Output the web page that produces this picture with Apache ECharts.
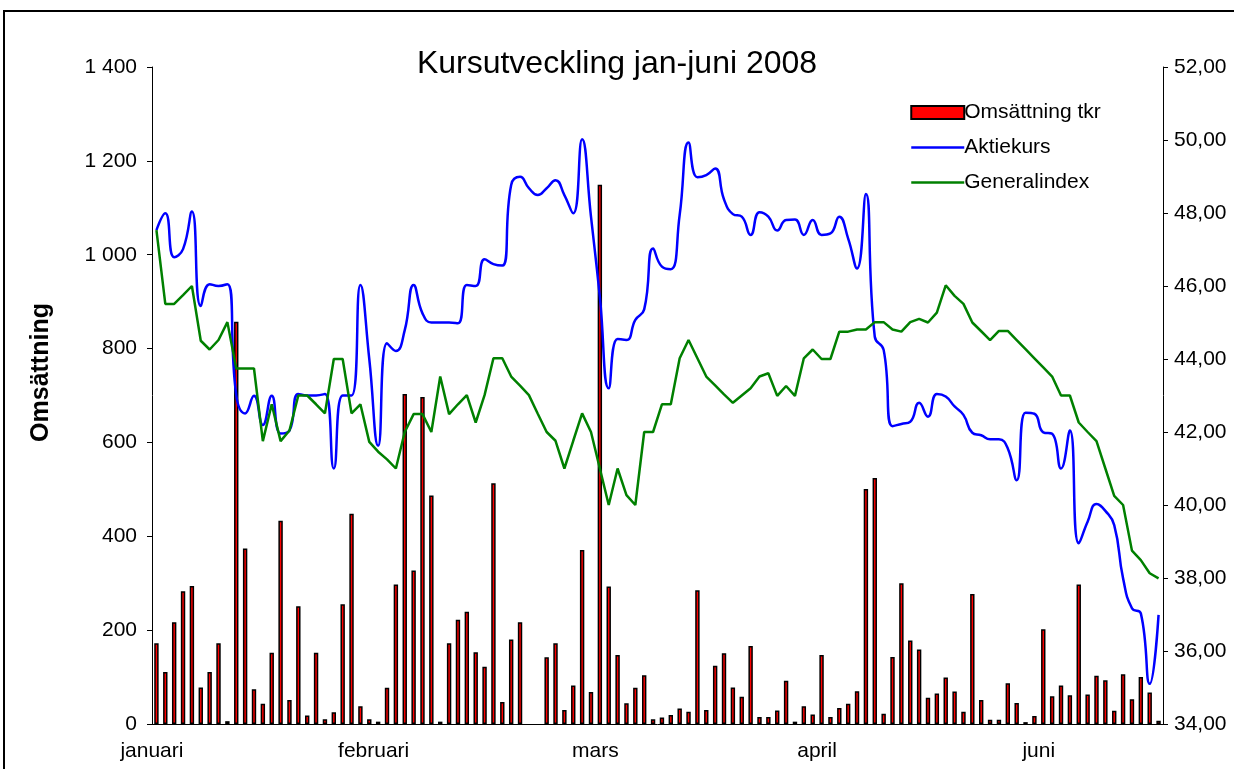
<!DOCTYPE html>
<html lang="sv">
<head>
<meta charset="UTF-8">
<title>Kursutveckling jan-juni 2008</title>
<script src="https://cdn.jsdelivr.net/npm/echarts@6/dist/echarts.min.js"></script>
<style>
    html, body { margin: 0; padding: 0; background: #fff; }
    #frame { position: absolute; left: 3px; top: 10px; width: 1300px; height: 800px; border: 2px solid #000; box-sizing: border-box; }
    #chart { position: absolute; left: 0; top: 0; width: 1234px; height: 769px; }
</style>
</head>
<body>
<div id="frame"></div>
<div id="chart"></div>
<script>
    // handelsdagar jan-juni 2008, en kategori per dag
    let monthLabels = ['januari', 'februari', 'mars', 'april', 'juni'];
    let monthStart = [0, 25, 50, 75, 100];

    // Omsättning tkr (vänster axel)
    let omsattning = [
        172, 111, 217, 283, 294, 78, 111, 172, 6, 857,
        374, 74, 43, 152, 433, 51, 251, 18, 152, 10,
        25, 255, 448, 38, 10, 5, 77, 297, 703, 327,
        697, 487, 5, 172, 222, 239, 153, 122, 513, 47,
        180, 217, null, null, 142, 172, 30, 82, 371, 68,
        1149, 293, 147, 44, 77, 104, 10, 14, 19, 33,
        26, 285, 30, 124, 151, 78, 58, 166, 15, 15,
        29, 92, 5, 38, 20, 147, 15, 34, 43, 70,
        501, 524, 22, 143, 300, 178, 159, 56, 65, 99,
        69, 26, 277, 51, 9, 9, 87, 45, 4, 17,
        202, 59, 82, 61, 297, 63, 103, 93, 28, 106,
        53, 100, 67, 7
    ];

    // Aktiekurs (höger axel)
    let aktiekurs = [
        47.53, 47.99, 46.79, 47.01, 48.04, 45.45, 46.05, 46.00, 46.05, 43.01,
        42.51, 42.99, 42.19, 42.99, 41.96, 42.04, 43.04, 43.00, 43.00, 43.04,
        41.00, 43.00, 43.00, 46.03, 44.00, 41.62, 44.43, 44.22, 44.79, 46.03,
        45.25, 45.00, 45.00, 45.00, 44.98, 46.03, 46.00, 46.73, 46.60, 46.56,
        48.77, 48.99, 48.68, 48.49, 48.68, 48.90, 48.49, 47.99, 50.02, 47.90,
        45.70, 43.20, 44.55, 44.52, 45.07, 45.36, 47.03, 46.53, 46.46, 47.95,
        49.93, 48.98, 49.04, 49.22, 48.37, 47.97, 47.90, 47.40, 48.02, 47.90,
        47.52, 47.81, 47.82, 47.40, 47.81, 47.40, 47.44, 47.90, 47.30, 46.48,
        48.52, 44.61, 44.25, 42.16, 42.22, 42.28, 42.80, 42.42, 43.04, 42.97,
        42.70, 42.47, 41.98, 41.91, 41.80, 41.80, 41.55, 40.68, 42.53, 42.50,
        41.99, 41.95, 41.00, 42.04, 38.95, 39.54, 40.03, 39.84, 39.45, 37.99,
        37.17, 37.03, 35.10, 36.99
    ];

    // Generalindex (höger axel)
    let generalindex = [
        47.53, 45.51, 45.51, 45.75, 46.00, 44.50, 44.26, 44.52, 45.01, 43.74,
        43.74, 43.74, 41.75, 42.76, 41.75, 42.04, 43.00, 43.00, 42.76, 42.51,
        44.00, 44.00, 42.51, 42.76, 41.73, 41.46, 41.25, 41.00, 42.00, 42.49,
        42.49, 42.00, 43.52, 42.49, 42.76, 43.01, 42.26, 43.01, 44.02, 44.02,
        43.52, 43.27, 43.01, 42.50, 42.00, 41.76, 41.00, 41.76, 42.51, 42.00,
        41.00, 40.00, 41.00, 40.27, 40.00, 42.00, 42.00, 42.76, 42.76, 44.02,
        44.52, 44.02, 43.52, 43.28, 43.03, 42.80, 43.00, 43.20, 43.52, 43.61,
        42.99, 43.26, 42.99, 44.02, 44.26, 44.00, 44.00, 44.75, 44.75, 44.81,
        44.81, 45.01, 45.01, 44.81, 44.75, 45.01, 45.10, 45.00, 45.27, 46.02,
        45.73, 45.51, 45.00, 44.76, 44.52, 44.77, 44.77, 44.52, 44.27, 44.02,
        43.77, 43.52, 43.00, 43.00, 42.26, 42.00, 41.75, 41.00, 40.25, 40.00,
        38.75, 38.49, 38.13, 37.99
    ];

    let categories = omsattning.map(function (v, i) {
        let k = monthStart.indexOf(i);
        return k >= 0 ? monthLabels[k] : '';
    });

    let font = '"Liberation Sans", Arial, sans-serif';

    let chart = echarts.init(document.getElementById('chart'));
    chart.setOption({
        animation: false,
        textStyle: { fontFamily: font, color: '#000' },
        title: {
            text: 'Kursutveckling jan-juni 2008',
            left: 'center',
            top: 43,
            textStyle: { fontFamily: font, fontSize: 32, fontWeight: 'normal', color: '#000' }
        },
        legend: {
            orient: 'vertical',
            left: 905,
            top: 97,
            itemWidth: 53,
            itemHeight: 13,
            itemGap: 14,
            textStyle: { fontFamily: font, fontSize: 21, color: '#000', padding: [0, 0, 0, -5] },
            data: [
                { name: 'Omsättning tkr', icon: 'rect', itemStyle: { borderWidth: 2 } },
                { name: 'Aktiekurs', itemStyle: { opacity: 0 }, lineStyle: { width: 2.5 } },
                { name: 'Generalindex', itemStyle: { opacity: 0 }, lineStyle: { width: 2.5 } }
            ]
        },
        grid: { left: 152, right: 71, top: 67, bottom: 45 },
        xAxis: {
            type: 'category',
            data: categories,
            boundaryGap: true,
            axisLine: { lineStyle: { color: '#000', width: 1 } },
            axisTick: { interval: 0, length: 5, lineStyle: { color: '#000' } },
            axisLabel: {
                interval: 0,
                margin: 17,
                fontSize: 21,
                color: '#000',
                fontFamily: font,
                padding: [0, 9, 0, 0]
            }
        },
        yAxis: [
            {
                type: 'value',
                position: 'left',
                min: 0,
                max: 1400,
                interval: 200,
                name: 'Omsättning',
                nameLocation: 'middle',
                nameGap: 98,
                nameTextStyle: { fontFamily: font, fontSize: 25, fontWeight: 'bold', color: '#000', padding: [0, 0, 0, 46] },
                axisLine: { show: true, lineStyle: { color: '#000' } },
                axisTick: { show: true, length: 5, lineStyle: { color: '#000' } },
                splitLine: { show: false },
                axisLabel: {
                    margin: 15,
                    fontSize: 21,
                    color: '#000',
                    fontFamily: font,
                    formatter: function (v) { return String(v).replace(/\B(?=(\d{3})+(?!\d))/g, ' '); }
                }
            },
            {
                type: 'value',
                position: 'right',
                min: 34,
                max: 52,
                interval: 2,
                axisLine: { show: true, lineStyle: { color: '#000' } },
                axisTick: { show: true, length: 5, lineStyle: { color: '#000' } },
                splitLine: { show: false },
                axisLabel: {
                    margin: 11,
                    fontSize: 21,
                    color: '#000',
                    fontFamily: font,
                    formatter: function (v) { return v.toFixed(2).replace('.', ','); }
                }
            }
        ],
        series: [
            {
                name: 'Omsättning tkr',
                type: 'bar',
                yAxisIndex: 0,
                barWidth: 4.4,
                data: omsattning,
                itemStyle: { color: '#ff0000', borderColor: '#000', borderWidth: 1.5 }
            },
            {
                name: 'Aktiekurs',
                type: 'line',
                yAxisIndex: 1,
                smooth: 0.5,
                symbol: 'none',
                data: aktiekurs,
                color: '#0000ff',
                lineStyle: { color: '#0000ff', width: 2.5 }
            },
            {
                name: 'Generalindex',
                type: 'line',
                yAxisIndex: 1,
                symbol: 'none',
                data: generalindex,
                color: '#008000',
                lineStyle: { color: '#008000', width: 2.5 }
            }
        ]
    });
</script>
</body>
</html>
